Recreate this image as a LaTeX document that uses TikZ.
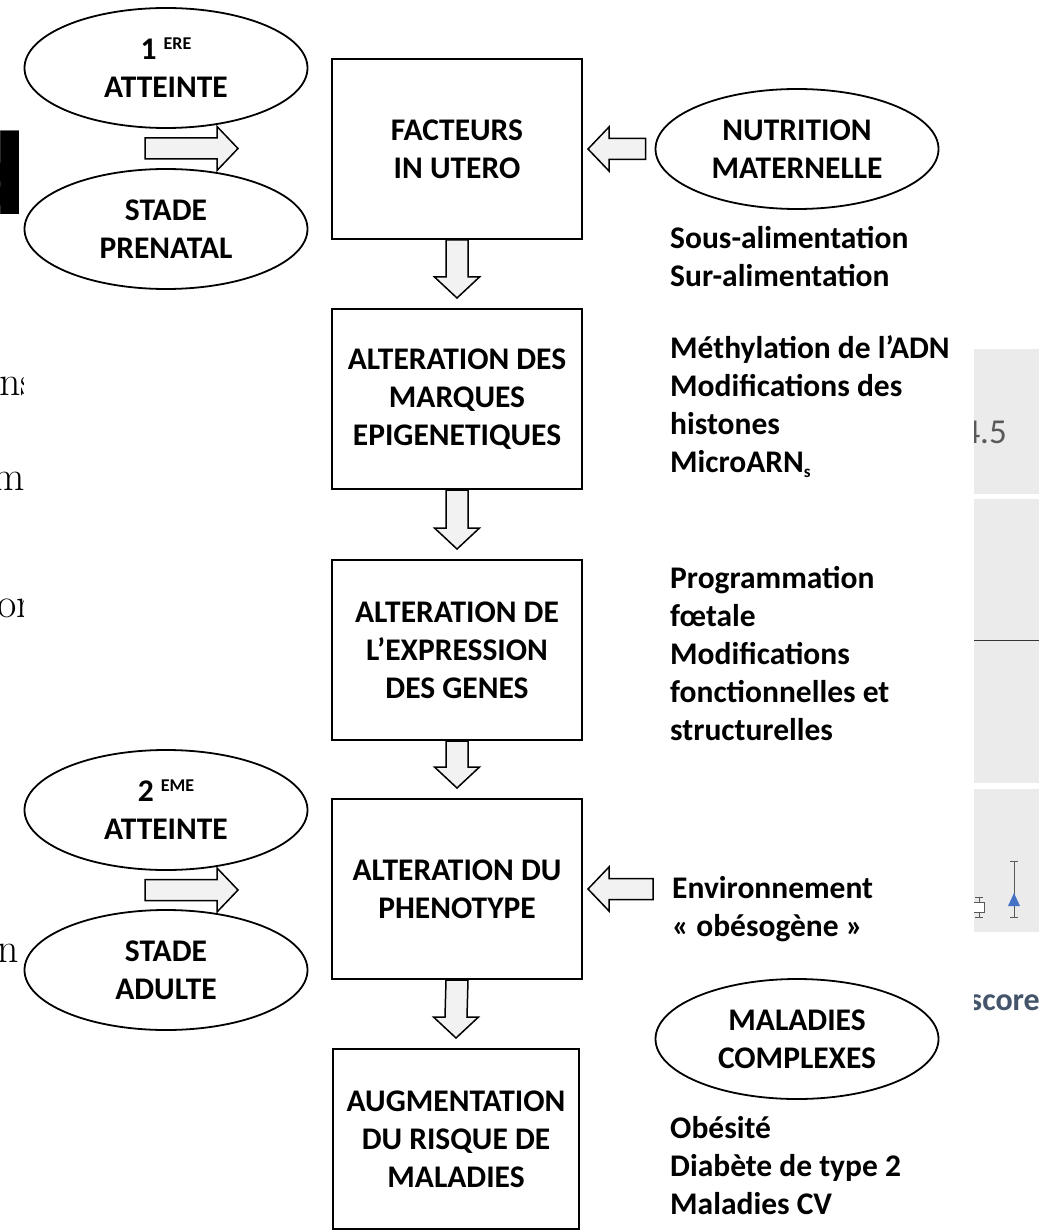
\documentclass[tikz,border=0pt]{standalone}
\usepackage{fontspec}
\setmainfont{Carlito}
\newfontfamily\lmfont{Latin Modern Roman}
\newfontfamily\blobfont{DejaVu Sans}
\usetikzlibrary{shapes.geometric,calc}
\definecolor{arrowgray}{HTML}{F2F2F2}
\definecolor{panelgray}{HTML}{EBEBEB}
\definecolor{axisgray}{HTML}{595959}
\definecolor{slateblue}{HTML}{44546A}
\definecolor{markblue}{HTML}{4472C4}
\tikzset{
  stagebox/.style={draw=black, line width=2pt, minimum width=250pt, minimum height=180pt,
    inner sep=0pt, align=center, font=\bfseries\fontsize{31.5}{38}\selectfont},
  stageoval/.style={ellipse, draw=black, line width=1.8pt, minimum width=283pt, minimum height=120pt,
    inner sep=0pt, align=center, font=\bfseries\fontsize{31.5}{38}\selectfont},
  sidetext/.style={anchor=base west, align=left, inner sep=0pt, font=\bfseries\fontsize{31.5}{38}\selectfont},
  fragtext/.style={inner sep=0pt, font=\lmfont\fontsize{42}{42}\selectfont},
  blockarrow/.style={draw=black, line width=1.5pt, fill=arrowgray, line join=miter},
}
\newcommand{\vblock}[2]{%
  \draw[blockarrow] ($(#1.south)+(-11,0)$) -- ($(#2.north)+(-11,-31)$) -- ($(#2.north)+(-22.5,-31)$)
    -- ($(#2.north)+(0,-10)$) -- ($(#2.north)+(22.5,-31)$) -- ($(#2.north)+(11,-31)$)
    -- ($(#1.south)+(11,0)$) -- cycle;}
\newcommand{\hblock}[3]{%
  \draw[blockarrow] ($(#1)+(0,-10.5)$) -- ($(#2)-(#3,10.5)$) -- ($(#2)-(#3,22)$) -- (#2)
    -- ($(#2)-(#3,-22)$) -- ($(#2)-(#3,-10.5)$) -- ($(#1)+(0,10.5)$) -- cycle;}
\newcommand{\supsmall}[1]{\raisebox{10pt}{\fontsize{18}{18}\selectfont #1}}

\begin{document}
\begin{tikzpicture}[x=1pt,y=-1pt]
  \useasboundingbox (0,0) rectangle (1056,1230);
  \fill[white] (0,0) rectangle (1056,1230);

  \fill[panelgray] (974,349) rectangle (1039,494);
  \fill[panelgray] (974,499) rectangle (1039,783);
  \fill[panelgray] (974,789) rectangle (1039,932);
  \draw[axisgray!60!black, line width=1pt] (974,640) -- (1039,640);
  \draw[axisgray, line width=1pt] (979,897) -- (979,917) (975,897) -- (983,897) (975,917) -- (983,917);
  \filldraw[fill=white, draw=axisgray, line width=1pt] (972,902) rectangle (984,912);
  \draw[axisgray, line width=1pt] (1014,861) -- (1014,917) (1010,861) -- (1018,861) (1010,917) -- (1018,917);
  \fill[markblue] (1008,906) -- (1020,906) -- (1014,893) -- cycle;

  \node[inner sep=0pt, font=\blobfont\bfseries\fontsize{110}{110}\selectfont, anchor=base east] (fragd) at (29,215) {d};
  \node[fragtext, anchor=base east] (fragns) at (36,395) {ns};
  \node[fragtext, anchor=base west] (fragm) at (-8,490) {m};
  \node[fragtext, anchor=base west] (fragor) at (-3,617) {or};
  \node[fragtext, anchor=base west] (fragn) at (-3,962) {n};
  \node[inner sep=0pt, anchor=base east, text=axisgray, font=\fontsize{35}{35}\selectfont] (ticklabel) at (1007,443) {4.5};
  \node[inner sep=0pt, anchor=base east, text=slateblue, font=\bfseries\fontsize{32}{32}\selectfont] (scorelabel) at (1040,1010) {score};
  \fill[white] (24,0) rectangle (974,1230);
  \fill[white] (19,100) rectangle (24,240);

  \node[stagebox] (facteurs) at (457,149) {FACTEURS\\IN UTERO};
  \node[stagebox] (marques) at (457,399) {ALTERATION DES\\MARQUES\\EPIGENETIQUES};
  \node[stagebox] (expression) at (457,650) {ALTERATION DE\\L’EXPRESSION\\DES GENES};
  \node[stagebox] (phenotype) at (457,889) {ALTERATION DU\\PHENOTYPE};
  \node[stagebox, minimum width=246pt] (risque) at (456,1139) {AUGMENTATION\\DU RISQUE DE\\MALADIES};

  \node[stageoval] (premiere) at (166,68) {1 \supsmall{ERE}\\ATTEINTE};
  \node[stageoval] (prenatal) at (166,229) {STADE\\PRENATAL};
  \node[stageoval] (deuxieme) at (166,810) {2 \supsmall{EME}\\ATTEINTE};
  \node[stageoval] (adulte) at (166,970) {STADE\\ADULTE};
  \node[stageoval] (nutrition) at (797,149) {NUTRITION\\MATERNELLE};
  \node[stageoval] (maladies) at (797,1039) {MALADIES\\COMPLEXES};

  \node[sidetext] (alimentation) at (670,287) {Sous-alimentation\\Sur-alimentation};
  \node[sidetext] (epigenetique) at (670,472) {Méthylation de l’ADN\\Modifications des\\histones\\MicroARN\raisebox{-5pt}{\fontsize{17}{17}\selectfont s}};
  \node[sidetext] (programmation) at (670,740) {Programmation\\fœtale\\Modifications\\fonctionnelles et\\structurelles};
  \node[sidetext] (environ) at (672,936) {Environnement\\« obésogène »};
  \node[sidetext] (pathologies) at (670,1214) {Obésité\\Diabète de type 2\\Maladies CV};

  \vblock{facteurs}{marques}
  \vblock{marques}{expression}
  \vblock{expression}{phenotype}
  \vblock{phenotype}{risque}

  \coordinate (mid1) at ($(premiere.south)!0.5!(prenatal.north)$);
  \coordinate (tail1) at ($(mid1)+(-21,0)$);
  \coordinate (head1) at ($(mid1)+(72,0)$);
  \hblock{tail1}{head1}{21}
  \coordinate (mid2) at ($(deuxieme.south)!0.5!(adulte.north)$);
  \coordinate (tail2) at ($(mid2)+(-21,0)$);
  \coordinate (head2) at ($(mid2)+(72,0)$);
  \hblock{tail2}{head2}{21}

  \coordinate (tail3) at ($(nutrition.west)+(-9,0)$);
  \coordinate (head3) at ($(facteurs.east)+(5,0)$);
  \hblock{tail3}{head3}{-21}
  \coordinate (tail4) at ($(phenotype.east)+(70,0)$);
  \coordinate (head4) at ($(phenotype.east)+(5,0)$);
  \hblock{tail4}{head4}{-21}
\end{tikzpicture}
\end{document}
